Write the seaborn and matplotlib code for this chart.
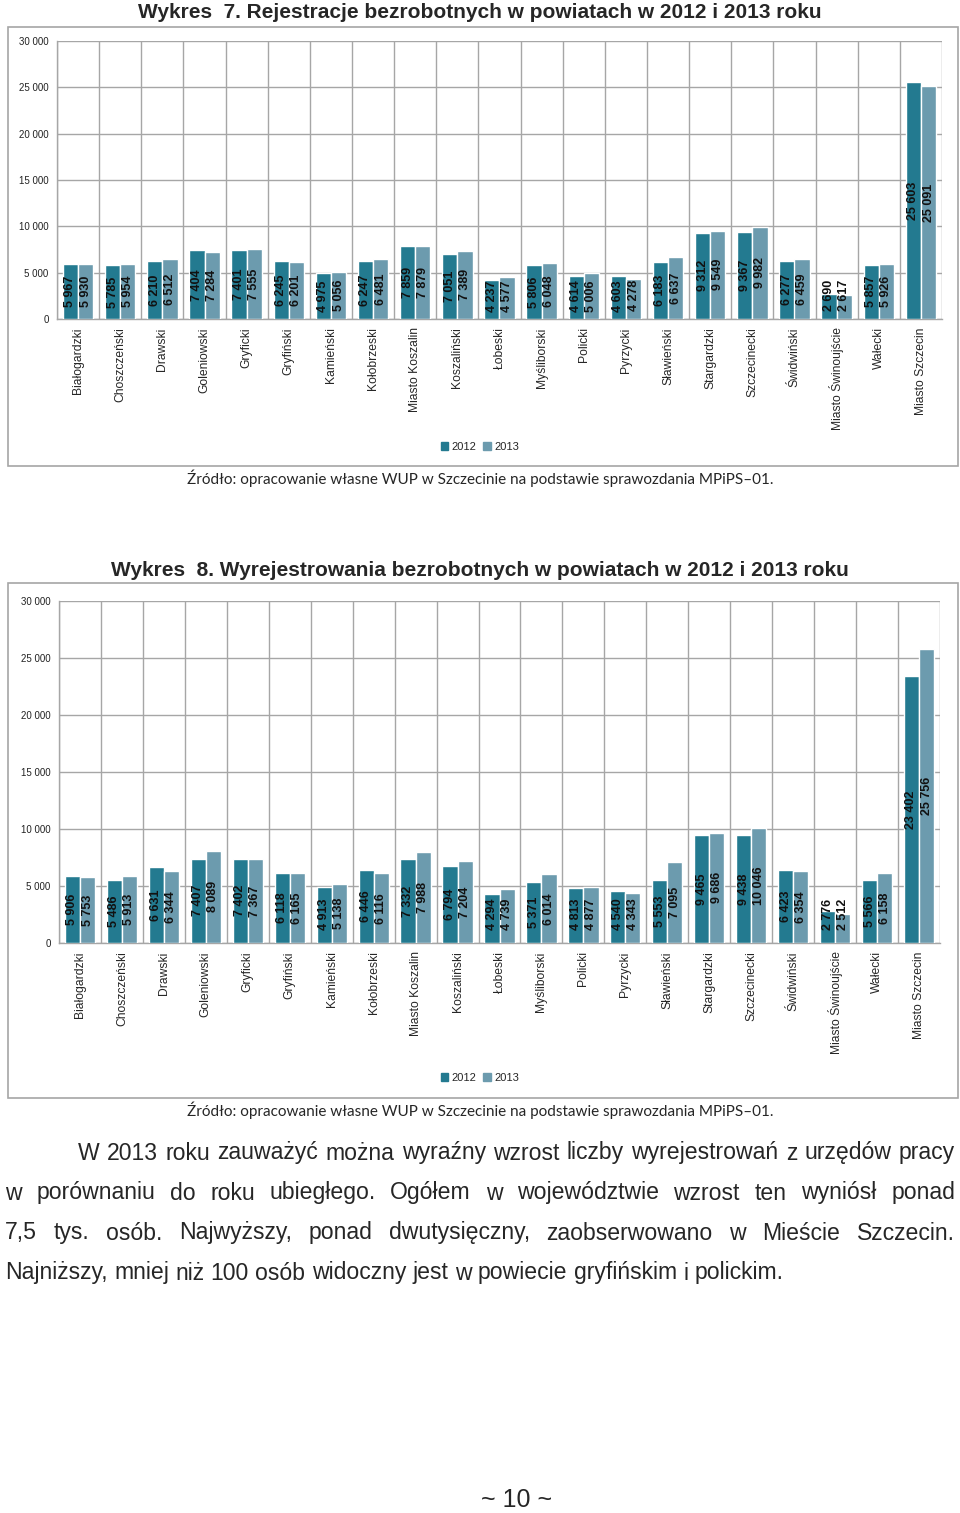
import pandas as pd
import matplotlib
matplotlib.use("Agg")
import matplotlib.pyplot as plt
from matplotlib.patches import Rectangle, Patch
import seaborn as sns

powiaty = ['Białogardzki', 'Choszczeński', 'Drawski', 'Goleniowski', 'Gryficki',
           'Gryfiński', 'Kamieński', 'Kołobrzeski', 'Miasto Koszalin', 'Koszaliński',
           'Łobeski', 'Myśliborski', 'Policki', 'Pyrzycki', 'Sławieński',
           'Stargardzki', 'Szczecinecki', 'Świdwiński', 'Miasto Świnoujście',
           'Wałecki', 'Miasto Szczecin']

# Wykres 7 - rejestracje
rej_2012 = [5967, 5785, 6210, 7404, 7401, 6245, 4975, 6247, 7859, 7051,
            4237, 5806, 4614, 4603, 6183, 9312, 9367, 6277, 2690, 5857, 25603]
rej_2013 = [5930, 5954, 6512, 7284, 7555, 6201, 5056, 6481, 7879, 7389,
            4577, 6048, 5006, 4278, 6637, 9549, 9982, 6459, 2617, 5926, 25091]

# Wykres 8 - wyrejestrowania
wyrej_2012 = [5906, 5486, 6631, 7407, 7402, 6118, 4913, 6446, 7332, 6794,
              4294, 5371, 4813, 4540, 5553, 9465, 9438, 6423, 2776, 5566, 23402]
wyrej_2013 = [5753, 5913, 6344, 8089, 7367, 6165, 5138, 6116, 7988, 7204,
              4739, 6014, 4877, 4343, 7095, 9686, 10046, 6354, 2512, 6158, 25756]

lata = ['2012', '2013']
y_ticks = [0, 5000, 10000, 15000, 20000, 25000, 30000]

title_7 = 'Wykres  7. Rejestracje bezrobotnych w powiatach w 2012 i 2013 roku'
title_8 = 'Wykres  8. Wyrejestrowania bezrobotnych w powiatach w 2012 i 2013 roku'
zrodlo = 'Źródło: opracowanie własne WUP w Szczecinie na podstawie sprawozdania MPiPS–01.'
akapit = [
    'W 2013 roku zauważyć można wyraźny wzrost liczby wyrejestrowań z urzędów pracy',
    'w porównaniu do roku ubiegłego. Ogółem w województwie wzrost ten wyniósł ponad',
    '7,5 tys. osób. Najwyższy, ponad dwutysięczny, zaobserwowano w Mieście Szczecin.',
    'Najniższy, mniej niż 100 osób widoczny jest w powiecie gryfińskim i polickim.',
]
stopka = '~ 10 ~'

sns.set_style("white")
plt.rcParams['font.family'] = ['Liberation Sans', 'DejaVu Sans']

kolory = {'2012': '#237A90', '2013': '#6C9BAE'}
szary = '#A6A6A6'

W, H = 960, 1513
fig = plt.figure(figsize=(W / 100, H / 100), dpi=100)


def fx(px):
    return px / W


def fy(px):
    return 1 - px / H


def fmt(v):
    return f"{v:,}".replace(',', ' ')


def rysuj(rect, v2012, v2013, title, title_y, box, legend_y, src_y):
    # ramka wokol wykresu
    x0, y0, x1, y1 = box
    fig.patches.append(Rectangle((fx(x0), fy(y1)), fx(x1 - x0), (y1 - y0) / H,
                                 transform=fig.transFigure, fill=False,
                                 edgecolor=szary, linewidth=1.2))
    ax = fig.add_axes(rect)
    df = pd.DataFrame({'powiat': powiaty * 2,
                       'rok': ['2012'] * len(powiaty) + ['2013'] * len(powiaty),
                       'liczba': v2012 + v2013})
    sns.barplot(data=df, x='powiat', y='liczba', hue='rok', order=powiaty,
                hue_order=lata, palette=kolory, width=0.72, saturation=1,
                legend=False, ax=ax, zorder=3)
    ax.set_xlim(-0.5, len(powiaty) - 0.5)
    ax.set_ylim(0, 30000)
    ax.set_yticks(y_ticks)
    ax.set_yticklabels([fmt(t) for t in y_ticks], fontsize=7, color='#222222')
    ax.set_xticks(range(len(powiaty)))
    ax.set_xticklabels(powiaty, rotation=90, fontsize=8.7)
    ax.set_xticks([i - 0.5 for i in range(len(powiaty) + 1)], minor=True)
    ax.tick_params(axis='x', which='major', length=0, pad=6)
    ax.tick_params(axis='x', which='minor', length=4, color=szary)
    ax.tick_params(axis='y', length=4, color=szary, pad=2)
    ax.set_xlabel('')
    ax.set_ylabel('')
    for y in y_ticks:
        ax.axhline(y, color=szary, lw=1, zorder=1)
    for x in range(len(powiaty) + 1):
        ax.axvline(x - 0.5, color=szary, lw=1, zorder=1)
    for s in ax.spines.values():
        s.set_color(szary)
        s.set_linewidth(1)
    ax.spines['top'].set_visible(False)
    ax.spines['right'].set_visible(False)

    # etykiety wartosci
    for cont in ax.containers:
        for p in cont.patches:
            h = p.get_height()
            ax.text(p.get_x() + p.get_width() / 2, max(h / 2, 2500), fmt(int(round(h))),
                    rotation=90, ha='center', va='center', fontsize=9,
                    fontweight='bold', color='#111111', zorder=4)

    fig.text(0.5, fy(title_y), title, ha='center', va='center',
             fontsize=15, fontweight='bold')
    handles = [Patch(color=kolory[r], label=r) for r in lata]
    fig.legend(handles=handles, loc='center', bbox_to_anchor=(0.5, fy(legend_y)),
               ncol=2, frameon=False, fontsize=8, handlelength=0.7,
               handleheight=0.7, handletextpad=0.3, columnspacing=0.6)
    fig.text(0.5, fy(src_y), zrodlo, ha='center', va='center', fontsize=11,
             family=['Lato', 'DejaVu Sans'])
    return ax


rysuj([fx(57), fy(319), fx(885), 278 / H], rej_2012, rej_2013, title_7, 12,
      (8, 27, 958, 466), 447, 478)
rysuj([fx(59), fy(943), fx(881), 342 / H], wyrej_2012, wyrej_2013, title_8, 570,
      (8, 583, 958, 1098), 1078, 1110)

# akapit z wyjustowaniem
renderer = fig.canvas.get_renderer()
font_p = dict(fontsize=16.6, family=['Liberation Sans Narrow', 'Liberation Sans'])
linie = [(78, 955, 1153, True), (5, 955, 1193, True), (5, 955, 1233, True),
         (5, 955, 1273, False)]
for tekst, (xl, xr, yy, just) in zip(akapit, linie):
    slowa = tekst.split(' ')
    arty = [fig.text(0, fy(yy), s, ha='left', va='center', **font_p) for s in slowa]
    szer = [a.get_window_extent(renderer).width for a in arty]
    spacja = fig.text(0, 0, 'a a', **font_p)
    sp = spacja.get_window_extent(renderer).width
    spacja.set_text('aa')
    sp -= spacja.get_window_extent(renderer).width
    spacja.remove()
    if just:
        odstep = (xr - xl - sum(szer)) / (len(slowa) - 1)
    else:
        odstep = sp
    x = xl
    for a, w in zip(arty, szer):
        a.set_x(fx(x))
        x += w + odstep

fig.text(fx(517), fy(1500), stopka, ha='center', va='center', fontsize=18)

fig.savefig('out.png', dpi=100)
